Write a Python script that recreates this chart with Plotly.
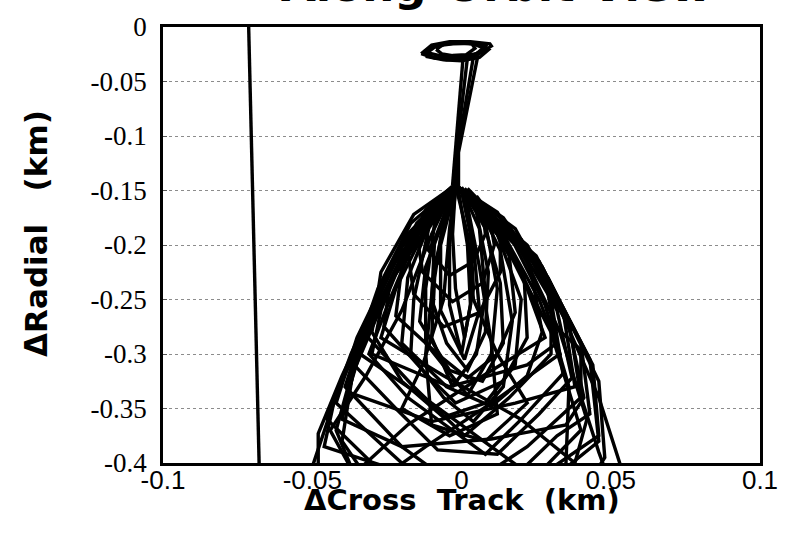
import plotly.graph_objects as go

# ---------------- data (km) ----------------
x_range = [-0.1, 0.1]
y_range = [-0.4, 0.0]
y_ticks = [0.0, -0.05, -0.1, -0.15, -0.2, -0.25, -0.3, -0.35, -0.4]
y_tick_labels = ["0", "-0.05", "-0.1", "-0.15", "-0.2", "-0.25", "-0.3", "-0.35", "-0.4"]
x_ticks = [-0.1, -0.05, 0.0, 0.05, 0.1]
x_tick_labels = ["-0.1", "-0.05", "0", "0.05", "0.1"]

# left straight line
line_left_x = [-0.0713, -0.0678]
line_left_y = [0.0, -0.4]

# small loop near the top
ring1_x = [-0.0135, -0.010, -0.004, 0.003, 0.0095, 0.010, 0.005, -0.002, -0.009, -0.0135]
ring1_y = [-0.0245, -0.0165, -0.0135, -0.0135, -0.0155, -0.0175, -0.026, -0.0295, -0.0285, -0.0245]
ring2_x = [-0.0115, -0.008, -0.002, 0.004, 0.008, 0.005, -0.001, -0.007, -0.0115]
ring2_y = [-0.0235, -0.0165, -0.0148, -0.015, -0.0178, -0.0245, -0.0275, -0.0265, -0.0235]
ring3_x = [-0.0085, -0.0055, 0.000, 0.0035, 0.0045, 0.0015, -0.003, -0.0065, -0.0085]
ring3_y = [-0.0205, -0.0150, -0.0140, -0.0155, -0.0195, -0.0255, -0.0262, -0.0248, -0.0205]
ring4_x = [-0.012, -0.006, 0.000, 0.006, 0.009, 0.004, -0.003, -0.010, -0.012]
ring4_y = [-0.027, -0.030, -0.031, -0.028, -0.021, -0.0155, -0.0143, -0.018, -0.027]
ring5_x = [-0.0125, -0.009, -0.003, 0.004, 0.0085, 0.007, 0.002, -0.005, -0.0105, -0.0125]
ring5_y = [-0.0225, -0.0175, -0.0155, -0.0150, -0.0165, -0.0215, -0.0285, -0.0300, -0.0270, -0.0225]

# descending strands from the loop to the cone apex
funnel1_x = [0.004, -0.0015, -0.002]
funnel1_y = [-0.027, -0.117, -0.145]
funnel2_x = [0.002, -0.0018, -0.0025]
funnel2_y = [-0.028, -0.117, -0.146]
funnel3_x = [0.0055, -0.001, -0.001]
funnel3_y = [-0.026, -0.115, -0.146]
funnel4_x = [0.0005, -0.002, -0.003]
funnel4_y = [-0.029, -0.118, -0.145]

# small loops near the apex
top1_x = [-0.002, -0.008, -0.012, -0.011, -0.004, 0.004, 0.008, 0.007, 0.001]
top1_y = [-0.145, -0.158, -0.178, -0.205, -0.228, -0.215, -0.190, -0.165, -0.148]
top2_x = [-0.001, -0.010, -0.015, -0.013, -0.003, 0.007, 0.011, 0.009, 0.002]
top2_y = [-0.145, -0.162, -0.190, -0.225, -0.252, -0.235, -0.200, -0.168, -0.148]
top3_x = [-0.003, -0.012, -0.018, -0.016, -0.006, 0.006, 0.013, 0.013, 0.005]
top3_y = [-0.146, -0.168, -0.205, -0.245, -0.275, -0.262, -0.225, -0.185, -0.155]

# narrow inner loops
narrow1_x = [-0.002, -0.004, -0.004, 0.000, 0.003, 0.002, -0.001]
narrow1_y = [-0.150, -0.200, -0.255, -0.300, -0.255, -0.200, -0.150]
narrow2_x = [-0.002, -0.007, -0.007, 0.001, 0.006, 0.004, 0.000]
narrow2_y = [-0.148, -0.200, -0.260, -0.305, -0.260, -0.200, -0.150]
narrow3_x = [-0.002, -0.003, -0.002, 0.001, 0.004, 0.003, 0.000]
narrow3_y = [-0.145, -0.190, -0.240, -0.285, -0.240, -0.190, -0.150]
narrow4_x = [-0.002, -0.009, -0.010, -0.005, 0.002, 0.008, 0.009, 0.005, 0.000]
narrow4_y = [-0.145, -0.195, -0.250, -0.290, -0.315, -0.280, -0.225, -0.170, -0.148]
narrow5_x = [-0.002, -0.005, -0.012, -0.014, -0.004, 0.007, 0.014, 0.013, 0.008, 0.001]
narrow5_y = [-0.145, -0.170, -0.220, -0.270, -0.315, -0.325, -0.290, -0.235, -0.185, -0.150]
core1_x = [-0.002, -0.006, -0.009, -0.010, -0.003, 0.005, 0.008, 0.006, 0.000]
core1_y = [-0.145, -0.175, -0.230, -0.285, -0.330, -0.300, -0.245, -0.185, -0.148]
core2_x = [-0.002, -0.009, -0.012, -0.012, 0.002, 0.010, 0.012, 0.008, 0.000]
core2_y = [-0.145, -0.180, -0.240, -0.290, -0.338, -0.300, -0.240, -0.180, -0.147]
core3_x = [-0.002, -0.011, -0.016, -0.017, -0.006, 0.004, 0.014, 0.017, 0.013, 0.004]
core3_y = [-0.145, -0.185, -0.250, -0.300, -0.340, -0.362, -0.330, -0.270, -0.205, -0.155]
core4_x = [-0.002, -0.004, -0.006, -0.013, -0.020, -0.004, 0.012, 0.010, 0.006, 0.001]
core4_y = [-0.145, -0.185, -0.250, -0.310, -0.350, -0.375, -0.355, -0.290, -0.220, -0.150]
core5_x = [-0.002, 0.002, 0.004, 0.012, 0.022, 0.008, -0.010, -0.012, -0.009, -0.004]
core5_y = [-0.145, -0.190, -0.250, -0.300, -0.345, -0.380, -0.365, -0.300, -0.220, -0.160]

# medium loops
mid1_x = [-0.002, -0.013, -0.020, -0.022, -0.008, 0.002, 0.012, 0.018, 0.016, 0.007, -0.002]
mid1_y = [-0.145, -0.175, -0.220, -0.265, -0.300, -0.322, -0.300, -0.262, -0.210, -0.165, -0.145]
mid2_x = [-0.002, -0.015, -0.024, -0.026, -0.012, -0.002, 0.014, 0.022, 0.021, 0.010, -0.002]
mid2_y = [-0.145, -0.180, -0.235, -0.275, -0.318, -0.345, -0.325, -0.285, -0.230, -0.175, -0.145]
mid3_x = [-0.002, -0.010, -0.018, -0.020, -0.005, 0.010, 0.022, 0.027, 0.023, 0.012, -0.002]
mid3_y = [-0.145, -0.175, -0.230, -0.290, -0.330, -0.348, -0.320, -0.280, -0.220, -0.170, -0.145]
mid4_x = [-0.002, -0.016, -0.027, -0.030, -0.020, -0.006, 0.008, 0.018, 0.020, 0.012, -0.002]
mid4_y = [-0.145, -0.172, -0.225, -0.280, -0.325, -0.358, -0.345, -0.310, -0.250, -0.190, -0.145]
wide1_x = [-0.002, -0.018, -0.027, -0.030, -0.004, 0.022, 0.032, 0.028, 0.014, -0.002]
wide1_y = [-0.145, -0.200, -0.260, -0.300, -0.330, -0.310, -0.290, -0.230, -0.175, -0.145]
wide2_x = [-0.002, -0.020, -0.033, -0.038, -0.010, 0.018, 0.038, 0.034, 0.020, -0.002]
wide2_y = [-0.145, -0.210, -0.290, -0.335, -0.362, -0.345, -0.330, -0.260, -0.195, -0.145]
wide3_x = [-0.002, -0.022, -0.036, -0.040, -0.020, 0.010, 0.035, 0.041, 0.036, 0.021, -0.002]
wide3_y = [-0.145, -0.225, -0.315, -0.360, -0.385, -0.378, -0.365, -0.340, -0.275, -0.200, -0.145]

# large loops
big1_x = [-0.002, -0.017, -0.028, -0.033, -0.016, 0.001, 0.016, 0.030, 0.030, 0.018, -0.002]
big1_y = [-0.145, -0.180, -0.240, -0.280, -0.330, -0.375, -0.340, -0.300, -0.245, -0.185, -0.145]
big2_x = [-0.002, -0.014, -0.024, -0.031, -0.018, 0.008, 0.020, 0.034, 0.030, 0.017, -0.002]
big2_y = [-0.145, -0.185, -0.250, -0.300, -0.340, -0.392, -0.360, -0.318, -0.250, -0.190, -0.145]
big3_x = [-0.002, -0.018, -0.030, -0.036, -0.022, -0.008, 0.012, 0.026, 0.037, 0.032, 0.020, -0.002]
big3_y = [-0.145, -0.190, -0.260, -0.310, -0.350, -0.388, -0.392, -0.355, -0.322, -0.260, -0.195, -0.145]
big4_x = [-0.002, -0.019, -0.032, -0.039, -0.020, 0.000, 0.022, 0.040, 0.036, 0.022, -0.002]
big4_y = [-0.145, -0.195, -0.270, -0.330, -0.385, -0.425, -0.385, -0.340, -0.270, -0.200, -0.145]
big5_x = [-0.002, -0.020, -0.035, -0.042, -0.028, -0.008, 0.015, 0.032, 0.043, 0.040, 0.025, -0.002]
big5_y = [-0.145, -0.200, -0.285, -0.345, -0.380, -0.430, -0.420, -0.375, -0.355, -0.290, -0.210, -0.145]
big6_x = [-0.002, -0.021, -0.037, -0.045, -0.030, 0.005, 0.028, 0.046, 0.043, 0.027, -0.002]
big6_y = [-0.145, -0.205, -0.300, -0.360, -0.400, -0.455, -0.420, -0.380, -0.305, -0.220, -0.145]
big7_x = [-0.002, -0.022, -0.040, -0.048, -0.048, -0.030, 0.035, 0.048, 0.046, 0.029, -0.002]
big7_y = [-0.145, -0.215, -0.320, -0.373, -0.410, -0.440, -0.450, -0.395, -0.325, -0.230, -0.145]
big8_x = [-0.002, -0.024, -0.041, -0.050, -0.052, 0.000, 0.055, 0.053, 0.046, 0.038, 0.027, -0.002]
big8_y = [-0.145, -0.220, -0.330, -0.405, -0.420, -0.500, -0.420, -0.400, -0.340, -0.290, -0.220, -0.145]
big9_x = [-0.002, -0.024, -0.042, -0.046, -0.018, 0.030, 0.046, 0.044, 0.026, -0.002]
big9_y = [-0.145, -0.235, -0.335, -0.385, -0.410, -0.405, -0.375, -0.310, -0.215, -0.145]

# strongly tilted loops
tilt1_x = [-0.002, -0.015, -0.028, -0.034, -0.010, 0.015, 0.030, 0.035, 0.036, 0.028, 0.016, -0.002]
tilt1_y = [-0.145, -0.190, -0.255, -0.300, -0.345, -0.395, -0.425, -0.400, -0.330, -0.255, -0.190, -0.145]
tilt2_x = [-0.002, 0.014, 0.026, 0.033, 0.010, -0.012, -0.030, -0.040, -0.036, -0.026, -0.014, -0.002]
tilt2_y = [-0.145, -0.190, -0.250, -0.300, -0.345, -0.385, -0.420, -0.380, -0.310, -0.245, -0.185, -0.145]
tilt3_x = [-0.002, -0.012, -0.022, -0.027, -0.006, 0.020, 0.038, 0.042, 0.033, 0.020, -0.002]
tilt3_y = [-0.145, -0.185, -0.240, -0.285, -0.320, -0.360, -0.400, -0.360, -0.280, -0.205, -0.145]
tilt4_x = [-0.002, 0.012, 0.022, 0.028, 0.006, -0.018, -0.036, -0.042, -0.034, -0.020, -0.002]
tilt4_y = [-0.145, -0.185, -0.240, -0.285, -0.322, -0.365, -0.410, -0.370, -0.290, -0.210, -0.145]
tilt5_x = [-0.002, -0.010, -0.020, -0.032, -0.044, -0.036, 0.015, 0.040, 0.030, 0.015, -0.002]
tilt5_y = [-0.145, -0.190, -0.260, -0.320, -0.370, -0.410, -0.440, -0.370, -0.280, -0.200, -0.145]

# lone loop on the right
right_x = [-0.002, 0.010, 0.020, 0.026, 0.040, 0.040, 0.046, 0.050]
right_y = [-0.146, -0.180, -0.225, -0.262, -0.296, -0.339, -0.390, -0.420]

paths = [
    (line_left_x, line_left_y),
    (ring1_x, ring1_y), (ring2_x, ring2_y), (ring3_x, ring3_y), (ring4_x, ring4_y), (ring5_x, ring5_y),
    (funnel1_x, funnel1_y), (funnel2_x, funnel2_y), (funnel3_x, funnel3_y), (funnel4_x, funnel4_y),
    (top1_x, top1_y), (top2_x, top2_y), (top3_x, top3_y),
    (narrow1_x, narrow1_y), (narrow2_x, narrow2_y), (narrow3_x, narrow3_y),
    (narrow4_x, narrow4_y), (narrow5_x, narrow5_y),
    (core1_x, core1_y), (core2_x, core2_y), (core3_x, core3_y), (core4_x, core4_y), (core5_x, core5_y),
    (mid1_x, mid1_y), (mid2_x, mid2_y), (mid3_x, mid3_y), (mid4_x, mid4_y),
    (wide1_x, wide1_y), (wide2_x, wide2_y), (wide3_x, wide3_y),
    (big1_x, big1_y), (big2_x, big2_y), (big3_x, big3_y), (big4_x, big4_y),
    (big5_x, big5_y), (big6_x, big6_y), (big7_x, big7_y), (big8_x, big8_y), (big9_x, big9_y),
    (tilt1_x, tilt1_y), (tilt2_x, tilt2_y), (tilt3_x, tilt3_y), (tilt4_x, tilt4_y), (tilt5_x, tilt5_y),
    (right_x, right_y),
]

xs, ys = [], []
for px, py in paths:
    xs += list(px) + [None]
    ys += list(py) + [None]

fig = go.Figure()
fig.add_trace(go.Scatter(x=xs, y=ys, mode="lines",
                         line=dict(color="black", width=3.4),
                         connectgaps=False, hoverinfo="skip", showlegend=False))

fig.update_layout(
    width=790, height=545,
    margin=dict(l=163, r=20, t=20, b=82),
    paper_bgcolor="white", plot_bgcolor="white",
    showlegend=False,
    xaxis=dict(range=x_range, tickvals=x_ticks, ticktext=x_tick_labels,
               showgrid=False, zeroline=False, showline=True, mirror=True,
               linecolor="black", linewidth=2.8, ticks="",
               ticklabelstandoff=-8,
               tickfont=dict(family="Liberation Sans", size=26, color="black")),
    yaxis=dict(range=y_range, tickvals=y_ticks, ticktext=y_tick_labels,
               showgrid=True, gridcolor="#8c8c8c", griddash="dot", gridwidth=1,
               zeroline=False, showline=True, mirror=True,
               linecolor="black", linewidth=2.8, ticks="inside", ticklen=4,
               tickcolor="#555", ticklabelstandoff=8,
               tickfont=dict(family="Liberation Serif", size=27, color="black")),
    annotations=[
        dict(text="Along-Orbit View", xref="paper", yref="paper", x=0.5585, y=1.0,
             xanchor="center", yanchor="bottom", yshift=13, showarrow=False,
             font=dict(family="DejaVu Sans", size=45, color="black", weight="bold")),
        dict(text="\u0394Cross  Track  (km)", xref="paper", yref="paper", x=0.5, y=-0.085,
             xanchor="center", yanchor="middle", showarrow=False,
             font=dict(family="DejaVu Sans", size=29, color="black", weight="bold")),
        dict(text="\u0394Radial   (km)", xref="paper", yref="paper", x=-0.214, y=0.526,
             xanchor="center", yanchor="middle", textangle=-90, showarrow=False,
             font=dict(family="DejaVu Sans", size=31, color="black", weight="bold")),
    ],
)

fig.write_html("out.html")
